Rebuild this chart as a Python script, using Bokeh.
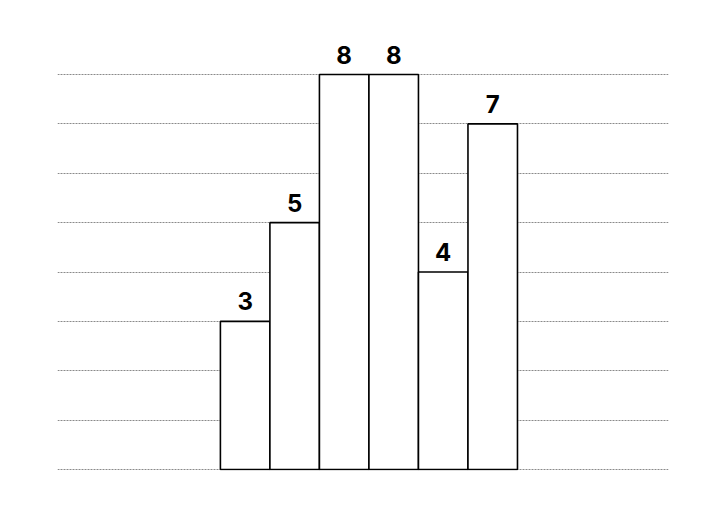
from bokeh.plotting import figure
from bokeh.models import ColumnDataSource, FixedTicker
from bokeh.core.properties import value
from bokeh.embed import file_html
from bokeh.resources import INLINE

positions = [0, 1, 2, 3, 4, 5]
values = [3, 5, 8, 8, 4, 7]
labels = [str(v) for v in values]
grid_ticks = [0, 1, 2, 3, 4, 5, 6, 7, 8]

src = ColumnDataSource(dict(x=positions, top=values, label=labels))

p = figure(width=702, height=507, output_backend="svg", toolbar_location=None,
           x_range=(-3.79, 8.55), y_range=(-0.02, 9.013),
           min_border_left=57, min_border_right=34, min_border_top=24, min_border_bottom=37)
p.outline_line_color = None
p.background_fill_color = "white"
p.border_fill_color = "white"
p.xaxis.visible = False
p.yaxis.visible = False
p.xgrid.visible = False
p.ygrid.ticker = FixedTicker(ticks=grid_ticks)
p.ygrid.grid_line_color = "#8a8a8a"
p.ygrid.grid_line_dash = "2 1"
p.ygrid.grid_line_width = 1

p.vbar(x="x", top="top", bottom=0, width=1, source=src,
       fill_color="white", line_color="black", line_width=1.6)
p.text(x="x", y="top", text="label", source=src, text_align="center",
       text_baseline="bottom", y_offset=-11, text_font=value("Inter"),
       text_font_style="bold", text_font_size="24px", text_color="black")

open("out.html", "w").write(file_html(p, INLINE))
